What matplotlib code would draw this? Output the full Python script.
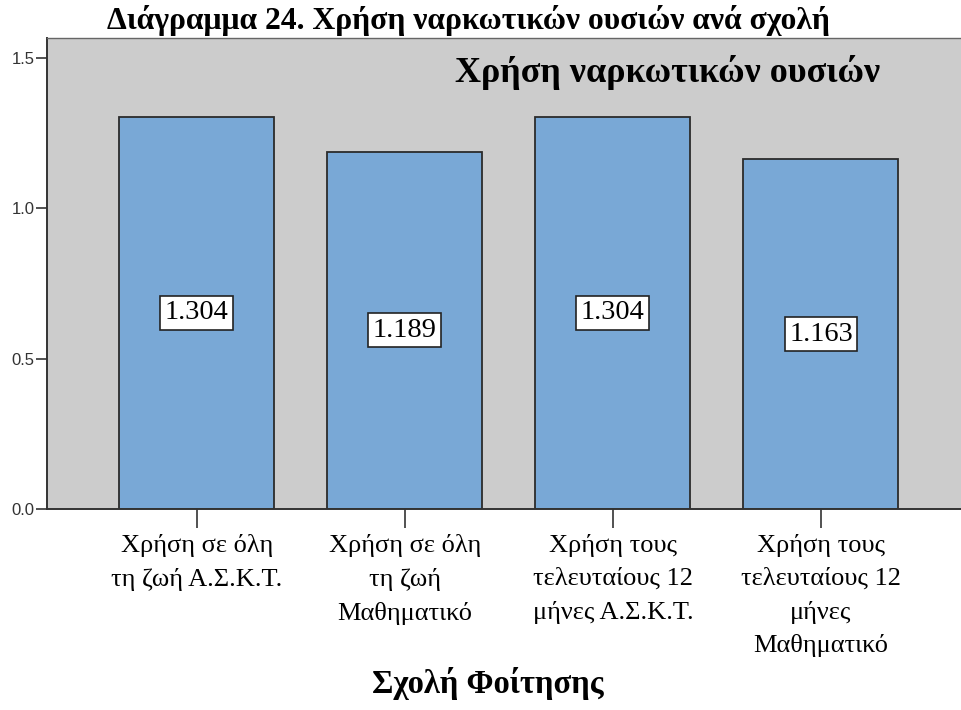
import matplotlib
matplotlib.use("Agg")
import matplotlib.pyplot as plt

categories = ["Χρήση σε όλη\nτη ζωή Α.Σ.Κ.Τ.",
              "Χρήση σε όλη\nτη ζωή\nΜαθηματικό",
              "Χρήση τους\nτελευταίους 12\nμήνες Α.Σ.Κ.Τ.",
              "Χρήση τους\nτελευταίους 12\nμήνες\nΜαθηματικό"]
values = [1.304, 1.189, 1.304, 1.163]
yticks = [0.0, 0.5, 1.0, 1.5]
title = "Διάγραμμα 24. Χρήση ναρκωτικών ουσιών ανά σχολή"
inner_title = "Χρήση ναρκωτικών ουσιών"
xlabel = "Σχολή Φοίτησης"

serif = ["Liberation Serif", "DejaVu Serif"]
sans = ["Liberation Sans", "DejaVu Sans"]

fig = plt.figure(figsize=(9.62, 7.10), dpi=100)
ax = fig.add_axes([47/962, 1-509/710, 1-47/962, (509-38)/710])
ax.set_facecolor("#cccccc")
x = list(range(len(values)))
ax.bar(x, values, width=0.745, color="#79a8d6", edgecolor="#2b2b2b", linewidth=1.3, zorder=2)
for xi, v in zip(x, values):
    ax.text(xi, v/2, f"{v:.3f}", ha="center", va="center", fontsize=20.5, family=serif,
            bbox=dict(boxstyle="square,pad=0.16", fc="white", ec="#222222", lw=1.2), zorder=3)

ax.set_xlim(-0.721, 3.678)
ax.set_ylim(0, 1.5665)
ax.set_yticks(yticks)
ax.set_yticklabels([f"{t:.1f}" for t in yticks], family=sans, fontsize=12, color="#333333")
ax.set_xticks(x)
ax.set_xticklabels(categories, family=serif, fontsize=19, linespacing=1.6)
ax.tick_params(axis="x", length=14, width=1.2, color="#333333", pad=4)
ax.tick_params(axis="y", length=8, width=1.2, color="#333333", pad=1)
for s in ["left", "bottom"]:
    ax.spines[s].set_color("#333333")
    ax.spines[s].set_linewidth(1.4)
ax.spines["top"].set_color("#666666")
ax.spines["top"].set_linewidth(1.0)
ax.spines["right"].set_visible(False)

ax.text(880/962, 1-73/710, inner_title, transform=fig.transFigure, ha="right", va="center",
        fontsize=26, fontweight="bold", family=serif)
fig.text(107/962, 1-20/710, title, ha="left", va="center", fontsize=22.8, fontweight="bold", family=serif)
fig.text(488/962, 1-683/710, xlabel, ha="center", va="center", fontsize=23.5, fontweight="bold", family=serif)

fig.savefig("out.png", dpi=100)
